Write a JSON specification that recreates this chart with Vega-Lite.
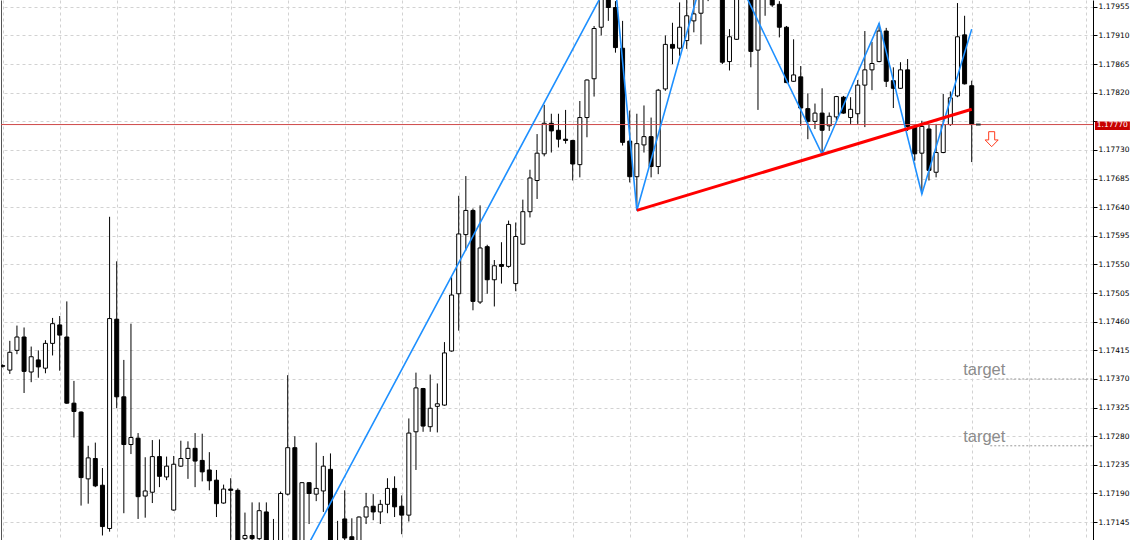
{
"$schema": "https://vega.github.io/schema/vega-lite/v6.json",
"width": 1092, "height": 540,
"padding": {"left": 1, "top": 0, "right": 47, "bottom": 0},
"autosize": {"type": "none"},
"background": "white",
"config": {"view": {"stroke": null}, "scale": {"continuousPadding": 0}},
"datasets": {
"candles": [
{"i":0,"o":1.17391,"h":1.17393,"l":1.17388,"c":1.17390},
{"i":1,"o":1.17384,"h":1.17430,"l":1.17378,"c":1.17412},
{"i":2,"o":1.17415,"h":1.17454,"l":1.17409,"c":1.17436},
{"i":3,"o":1.17436,"h":1.17451,"l":1.17348,"c":1.17382},
{"i":4,"o":1.17381,"h":1.17421,"l":1.17365,"c":1.17405},
{"i":5,"o":1.17400,"h":1.17415,"l":1.17372,"c":1.17389},
{"i":6,"o":1.17387,"h":1.17431,"l":1.17379,"c":1.17426},
{"i":7,"o":1.17426,"h":1.17466,"l":1.17407,"c":1.17457},
{"i":8,"o":1.17455,"h":1.17469,"l":1.17383,"c":1.17439},
{"i":9,"o":1.17436,"h":1.17492,"l":1.17331,"c":1.17332},
{"i":10,"o":1.17332,"h":1.17367,"l":1.17278,"c":1.17319},
{"i":11,"o":1.17318,"h":1.17319,"l":1.17171,"c":1.17215},
{"i":12,"o":1.17213,"h":1.17265,"l":1.17174,"c":1.17246},
{"i":13,"o":1.17245,"h":1.17270,"l":1.17200,"c":1.17202},
{"i":14,"o":1.17203,"h":1.17230,"l":1.17124,"c":1.17138},
{"i":15,"o":1.17135,"h":1.17625,"l":1.17130,"c":1.17465},
{"i":16,"o":1.17464,"h":1.17555,"l":1.17324,"c":1.17342},
{"i":17,"o":1.17342,"h":1.17400,"l":1.17159,"c":1.17267},
{"i":18,"o":1.17267,"h":1.17457,"l":1.17252,"c":1.17278},
{"i":19,"o":1.17277,"h":1.17285,"l":1.17150,"c":1.17185},
{"i":20,"o":1.17186,"h":1.17247,"l":1.17152,"c":1.17194},
{"i":21,"o":1.17192,"h":1.17274,"l":1.17175,"c":1.17248},
{"i":22,"o":1.17248,"h":1.17275,"l":1.17200,"c":1.17217},
{"i":23,"o":1.17216,"h":1.17248,"l":1.17211,"c":1.17233},
{"i":24,"o":1.17164,"h":1.17249,"l":1.17163,"c":1.17236},
{"i":25,"o":1.17233,"h":1.17273,"l":1.17232,"c":1.17245},
{"i":26,"o":1.17245,"h":1.17272,"l":1.17213,"c":1.17261},
{"i":27,"o":1.17261,"h":1.17285,"l":1.17200,"c":1.17241},
{"i":28,"o":1.17242,"h":1.17284,"l":1.17209,"c":1.17224},
{"i":29,"o":1.17227,"h":1.17255,"l":1.17195,"c":1.17210},
{"i":30,"o":1.17211,"h":1.17227,"l":1.17153,"c":1.17174},
{"i":31,"o":1.17175,"h":1.17204,"l":1.17174,"c":1.17197},
{"i":32,"o":1.17197,"h":1.17214,"l":1.17104,"c":1.17195},
{"i":33,"o":1.17195,"h":1.17198,"l":1.17093,"c":1.17104},
{"i":34,"o":1.17119,"h":1.17160,"l":1.17109,"c":1.17124},
{"i":35,"o":1.17124,"h":1.17176,"l":1.17104,"c":1.17119},
{"i":36,"o":1.17119,"h":1.17176,"l":1.17109,"c":1.17163},
{"i":37,"o":1.17161,"h":1.17176,"l":1.17093,"c":1.17104},
{"i":38,"o":1.17109,"h":1.17150,"l":1.17085,"c":1.17098},
{"i":39,"o":1.17101,"h":1.17193,"l":1.17093,"c":1.17190},
{"i":40,"o":1.17189,"h":1.17376,"l":1.17187,"c":1.17262},
{"i":41,"o":1.17262,"h":1.17280,"l":1.17093,"c":1.17104},
{"i":42,"o":1.17104,"h":1.17208,"l":1.17090,"c":1.17207},
{"i":43,"o":1.17207,"h":1.17208,"l":1.17142,"c":1.17190},
{"i":44,"o":1.17189,"h":1.17270,"l":1.17178,"c":1.17198},
{"i":45,"o":1.17194,"h":1.17249,"l":1.17161,"c":1.17233},
{"i":46,"o":1.17228,"h":1.17253,"l":1.17093,"c":1.17104},
{"i":47,"o":1.17100,"h":1.17147,"l":1.17090,"c":1.17110},
{"i":48,"o":1.17150,"h":1.17195,"l":1.17104,"c":1.17120},
{"i":49,"o":1.17122,"h":1.17151,"l":1.17109,"c":1.17117},
{"i":50,"o":1.17109,"h":1.17154,"l":1.17104,"c":1.17153},
{"i":51,"o":1.17153,"h":1.17191,"l":1.17142,"c":1.17169},
{"i":52,"o":1.17170,"h":1.17189,"l":1.17148,"c":1.17161},
{"i":53,"o":1.17161,"h":1.17180,"l":1.17142,"c":1.17173},
{"i":54,"o":1.17173,"h":1.17214,"l":1.17159,"c":1.17198},
{"i":55,"o":1.17198,"h":1.17217,"l":1.17153,"c":1.17169},
{"i":56,"o":1.17170,"h":1.17187,"l":1.17126,"c":1.17156},
{"i":57,"o":1.17156,"h":1.17308,"l":1.17146,"c":1.17285},
{"i":58,"o":1.17287,"h":1.17380,"l":1.17227,"c":1.17356},
{"i":59,"o":1.17355,"h":1.17356,"l":1.17287,"c":1.17296},
{"i":60,"o":1.17295,"h":1.17377,"l":1.17287,"c":1.17324},
{"i":61,"o":1.17327,"h":1.17363,"l":1.17286,"c":1.17331},
{"i":62,"o":1.17329,"h":1.17428,"l":1.17328,"c":1.17411},
{"i":63,"o":1.17414,"h":1.17530,"l":1.17413,"c":1.17502},
{"i":64,"o":1.17504,"h":1.17658,"l":1.17446,"c":1.17598},
{"i":65,"o":1.17597,"h":1.17689,"l":1.17572,"c":1.17635},
{"i":66,"o":1.17635,"h":1.17638,"l":1.17478,"c":1.17492},
{"i":67,"o":1.17491,"h":1.17643,"l":1.17488,"c":1.17576},
{"i":68,"o":1.17578,"h":1.17581,"l":1.17504,"c":1.17526},
{"i":69,"o":1.17526,"h":1.17557,"l":1.17484,"c":1.17548},
{"i":70,"o":1.17550,"h":1.17585,"l":1.17520,"c":1.17547},
{"i":71,"o":1.17547,"h":1.17619,"l":1.17545,"c":1.17613},
{"i":72,"o":1.17520,"h":1.17616,"l":1.17508,"c":1.17594},
{"i":73,"o":1.17582,"h":1.17652,"l":1.17581,"c":1.17633},
{"i":74,"o":1.17633,"h":1.17699,"l":1.17624,"c":1.17686},
{"i":75,"o":1.17682,"h":1.17755,"l":1.17653,"c":1.17725},
{"i":76,"o":1.17724,"h":1.17801,"l":1.17720,"c":1.17772},
{"i":77,"o":1.17772,"h":1.17787,"l":1.17726,"c":1.17760},
{"i":78,"o":1.17761,"h":1.17787,"l":1.17734,"c":1.17747},
{"i":79,"o":1.17747,"h":1.17793,"l":1.17740,"c":1.17745},
{"i":80,"o":1.17745,"h":1.17746,"l":1.17682,"c":1.17708},
{"i":81,"o":1.17707,"h":1.17807,"l":1.17687,"c":1.17781},
{"i":82,"o":1.17781,"h":1.17841,"l":1.17750,"c":1.17840},
{"i":83,"o":1.17842,"h":1.17925,"l":1.17814,"c":1.17921},
{"i":84,"o":1.17923,"h":1.17996,"l":1.17910,"c":1.17977},
{"i":85,"o":1.17980,"h":1.18010,"l":1.17933,"c":1.17954},
{"i":86,"o":1.17954,"h":1.17964,"l":1.17883,"c":1.17891},
{"i":87,"o":1.17890,"h":1.17933,"l":1.17737,"c":1.17742},
{"i":88,"o":1.17744,"h":1.17792,"l":1.17679,"c":1.17688},
{"i":89,"o":1.17688,"h":1.17787,"l":1.17635,"c":1.17740},
{"i":90,"o":1.17738,"h":1.17800,"l":1.17726,"c":1.17751},
{"i":91,"o":1.17751,"h":1.17781,"l":1.17687,"c":1.17704},
{"i":92,"o":1.17704,"h":1.17826,"l":1.17692,"c":1.17824},
{"i":93,"o":1.17826,"h":1.17910,"l":1.17823,"c":1.17896},
{"i":94,"o":1.17896,"h":1.17930,"l":1.17865,"c":1.17890},
{"i":95,"o":1.17890,"h":1.17962,"l":1.17878,"c":1.17923},
{"i":96,"o":1.17902,"h":1.17969,"l":1.17889,"c":1.17941},
{"i":97,"o":1.17933,"h":1.17972,"l":1.17915,"c":1.17944},
{"i":98,"o":1.17945,"h":1.17996,"l":1.17896,"c":1.17972},
{"i":99,"o":1.17980,"h":1.18059,"l":1.17964,"c":1.18035},
{"i":100,"o":1.18035,"h":1.18073,"l":1.17988,"c":1.18011},
{"i":101,"o":1.17980,"h":1.17996,"l":1.17865,"c":1.17868},
{"i":102,"o":1.17869,"h":1.17920,"l":1.17855,"c":1.17908},
{"i":103,"o":1.17904,"h":1.17988,"l":1.17903,"c":1.17972},
{"i":104,"o":1.17970,"h":1.18000,"l":1.17966,"c":1.17990},
{"i":105,"o":1.17972,"h":1.17980,"l":1.17860,"c":1.17885},
{"i":106,"o":1.17887,"h":1.17972,"l":1.17793,"c":1.17969},
{"i":107,"o":1.17972,"h":1.17988,"l":1.17941,"c":1.17980},
{"i":108,"o":1.17972,"h":1.17980,"l":1.17955,"c":1.17958},
{"i":109,"o":1.17959,"h":1.17964,"l":1.17907,"c":1.17923},
{"i":110,"o":1.17923,"h":1.17925,"l":1.17835,"c":1.17836},
{"i":111,"o":1.17838,"h":1.17904,"l":1.17837,"c":1.17848},
{"i":112,"o":1.17845,"h":1.17862,"l":1.17768,"c":1.17796},
{"i":113,"o":1.17795,"h":1.17819,"l":1.17747,"c":1.17775},
{"i":114,"o":1.17775,"h":1.17803,"l":1.17763,"c":1.17788},
{"i":115,"o":1.17788,"h":1.17827,"l":1.17723,"c":1.17761},
{"i":116,"o":1.17768,"h":1.17789,"l":1.17760,"c":1.17783},
{"i":117,"o":1.17782,"h":1.17815,"l":1.17776,"c":1.17814},
{"i":118,"o":1.17813,"h":1.17815,"l":1.17787,"c":1.17788},
{"i":119,"o":1.17781,"h":1.17813,"l":1.17771,"c":1.17794},
{"i":120,"o":1.17787,"h":1.17840,"l":1.17771,"c":1.17832},
{"i":121,"o":1.17832,"h":1.17917,"l":1.17766,"c":1.17856},
{"i":122,"o":1.17856,"h":1.17900,"l":1.17824,"c":1.17866},
{"i":123,"o":1.17869,"h":1.17929,"l":1.17868,"c":1.17917},
{"i":124,"o":1.17917,"h":1.17922,"l":1.17829,"c":1.17838},
{"i":125,"o":1.17839,"h":1.17860,"l":1.17796,"c":1.17827},
{"i":126,"o":1.17827,"h":1.17868,"l":1.17826,"c":1.17856},
{"i":127,"o":1.17856,"h":1.17873,"l":1.17760,"c":1.17767},
{"i":128,"o":1.17766,"h":1.17767,"l":1.17713,"c":1.17724},
{"i":129,"o":1.17725,"h":1.17776,"l":1.17661,"c":1.17767},
{"i":130,"o":1.17763,"h":1.17771,"l":1.17682,"c":1.17698},
{"i":131,"o":1.17695,"h":1.17771,"l":1.17687,"c":1.17726},
{"i":132,"o":1.17726,"h":1.17818,"l":1.17725,"c":1.17770},
{"i":133,"o":1.17770,"h":1.17822,"l":1.17768,"c":1.17812},
{"i":134,"o":1.17815,"h":1.17961,"l":1.17813,"c":1.17908},
{"i":135,"o":1.17911,"h":1.17941,"l":1.17833,"c":1.17834},
{"i":136,"o":1.17831,"h":1.17839,"l":1.17711,"c":1.17770}
],
"zigzag": [
{"k":0,"i":42,"p":1.17091},
{"k":1,"i":85.8,"p":1.18010},
{"k":2,"i":89,"p":1.17635},
{"k":3,"i":100,"p":1.18073},
{"k":4,"i":115,"p":1.17723},
{"k":5,"i":123,"p":1.17929},
{"k":6,"i":129,"p":1.17661},
{"k":7,"i":136,"p":1.17920}
],
"trend": [
{"k":0,"i":89,"p":1.17635},
{"k":1,"i":136,"p":1.17794}
],
"targets": [
{"i":138.6,"i2":153.02,"p":1.17370,"tp":1.173763,"ti":134.8,"t":"target"},
{"i":138.6,"i2":153.02,"p":1.17265,"tp":1.172714,"ti":134.8,"t":"target"}
]
},
"resolve": {"axis": {"y": "independent"}},
"layer": [
{
"data": {"name": "candles"},
"mark": {"type": "rule", "color": "black", "strokeWidth": 1, "clip": true},
"encoding": {
"x": {"field": "i", "type": "quantitative",
"scale": {"domain": [-0.2386, 153.02], "nice": false, "zero": false},
"axis": {"values": [0,4,8,12,16,20,24,28,32,36,40,44,48,52,56,60,64,68,72,76,80,84,88,92,96,100,104,108,112,116,120,124,128,132,136,140,144,148,152],
"grid": true, "gridColor": "#d2d2d2", "gridDash": [3,3], "gridWidth": 1,
"labels": false, "ticks": false, "domain": false, "title": null}},
"y": {"field": "l", "type": "quantitative",
"scale": {"domain": [1.171169, 1.179658], "nice": false, "zero": false},
"axis": {"orient": "right", "title": null,
"values": [1.17145,1.1719,1.17235,1.1728,1.17325,1.1737,1.17415,1.1746,1.17505,1.1755,1.17595,1.1764,1.17685,1.1773,1.17775,1.1782,1.17865,1.1791,1.17955],
"labelExpr": "abs(datum.value - 1.17775) < 0.00001 ? '' : format(datum.value, '.5f')",
"labelFont": "DejaVu Sans", "labelFontSize": 7.5, "labelColor": "black",
"labelPadding": 1, "labelOverlap": false, "labelFlush": false,
"tickColor": "black", "tickSize": 4, "domainColor": "black",
"grid": true, "gridColor": "#d2d2d2", "gridDash": [3,3], "gridWidth": 1}},
"y2": {"field": "h"}
}
},
{
"data": {"name": "candles"},
"mark": {"type": "bar", "width": 4, "stroke": "black", "strokeWidth": 1, "clip": true},
"encoding": {
"x": {"field": "i", "type": "quantitative", "scale": {"domain": [-0.2386, 153.02], "nice": false, "zero": false}},
"y": {"field": "o", "type": "quantitative", "scale": {"domain": [1.171169, 1.179658], "nice": false, "zero": false}, "axis": null},
"y2": {"field": "c"},
"fill": {"condition": {"test": "datum.c >= datum.o", "value": "white"}, "value": "black"}
}
},
{
"data": {"values": [{"p": 1.1777}]},
"mark": {"type": "rule", "color": "#cf4a4a", "strokeWidth": 1},
"encoding": {
"y": {"field": "p", "type": "quantitative", "scale": {"domain": [1.171169, 1.179658], "nice": false, "zero": false},
"axis": {"orient": "left", "labels": false, "ticks": false, "grid": false, "domain": true, "domainColor": "#555555", "title": null}}
}
},
{
"data": {"values": [{"i": 136.6, "i2": 137.25, "p": 1.1777}]},
"mark": {"type": "rule", "color": "#333333", "strokeWidth": 2},
"encoding": {
"x": {"field": "i", "type": "quantitative", "scale": {"domain": [-0.2386, 153.02], "nice": false, "zero": false}},
"x2": {"field": "i2"},
"y": {"field": "p", "type": "quantitative", "scale": {"domain": [1.171169, 1.179658], "nice": false, "zero": false}, "axis": null}
}
},
{
"data": {"name": "zigzag"},
"mark": {"type": "line", "color": "#1e90ff", "strokeWidth": 1.6, "clip": true},
"encoding": {
"x": {"field": "i", "type": "quantitative", "scale": {"domain": [-0.2386, 153.02], "nice": false, "zero": false}},
"y": {"field": "p", "type": "quantitative", "scale": {"domain": [1.171169, 1.179658], "nice": false, "zero": false}, "axis": null},
"order": {"field": "k"}
}
},
{
"data": {"name": "trend"},
"mark": {"type": "line", "color": "#ff0000", "strokeWidth": 3, "clip": true},
"encoding": {
"x": {"field": "i", "type": "quantitative", "scale": {"domain": [-0.2386, 153.02], "nice": false, "zero": false}},
"y": {"field": "p", "type": "quantitative", "scale": {"domain": [1.171169, 1.179658], "nice": false, "zero": false}, "axis": null},
"order": {"field": "k"}
}
},
{
"data": {"name": "targets"},
"mark": {"type": "rule", "color": "#9a9a9a", "strokeWidth": 1, "strokeDash": [2,2]},
"encoding": {
"x": {"field": "i", "type": "quantitative", "scale": {"domain": [-0.2386, 153.02], "nice": false, "zero": false}},
"x2": {"field": "i2"},
"y": {"field": "p", "type": "quantitative", "scale": {"domain": [1.171169, 1.179658], "nice": false, "zero": false}, "axis": null}
}
},
{
"data": {"name": "targets"},
"mark": {"type": "text", "align": "left", "baseline": "alphabetic", "font": "Liberation Sans", "fontSize": 16.5, "color": "#8c8c8c"},
"encoding": {
"x": {"field": "ti", "type": "quantitative", "scale": {"domain": [-0.2386, 153.02], "nice": false, "zero": false}},
"y": {"field": "tp", "type": "quantitative", "scale": {"domain": [1.171169, 1.179658], "nice": false, "zero": false}, "axis": null},
"text": {"field": "t"}
}
},
{
"data": {"values": [{"i": 138.8, "p": 1.17747}]},
"mark": {"type": "point", "shape": "M-0.4,-1L0.4,-1L0.4,0.1L0.87,0.1L0,1L-0.87,0.1L-0.4,0.1Z", "size": 225, "filled": false, "fill": "white", "fillOpacity": 1, "stroke": "#ff3c1e", "strokeWidth": 1, "opacity": 1},
"encoding": {
"x": {"field": "i", "type": "quantitative", "scale": {"domain": [-0.2386, 153.02], "nice": false, "zero": false}},
"y": {"field": "p", "type": "quantitative", "scale": {"domain": [1.171169, 1.179658], "nice": false, "zero": false}, "axis": null}
}
},
{
"data": {"values": [{"x1": 153.3, "x2": 158.2, "y1": 1.177749, "y2": 1.177614}]},
"mark": {"type": "rect", "color": "#c80000", "clip": false},
"encoding": {
"x": {"field": "x1", "type": "quantitative", "scale": {"domain": [-0.2386, 153.02], "nice": false, "zero": false}},
"x2": {"field": "x2"},
"y": {"field": "y1", "type": "quantitative", "scale": {"domain": [1.171169, 1.179658], "nice": false, "zero": false}, "axis": null},
"y2": {"field": "y2"}
}
},
{
"data": {"values": [{"x": 153.55, "p": 1.1777, "t": "1.17770"}]},
"mark": {"type": "text", "align": "left", "baseline": "middle", "font": "DejaVu Sans", "fontSize": 7.5, "color": "white", "clip": false},
"encoding": {
"x": {"field": "x", "type": "quantitative", "scale": {"domain": [-0.2386, 153.02], "nice": false, "zero": false}},
"y": {"field": "p", "type": "quantitative", "scale": {"domain": [1.171169, 1.179658], "nice": false, "zero": false}, "axis": null},
"text": {"field": "t"}
}
}
]
}
